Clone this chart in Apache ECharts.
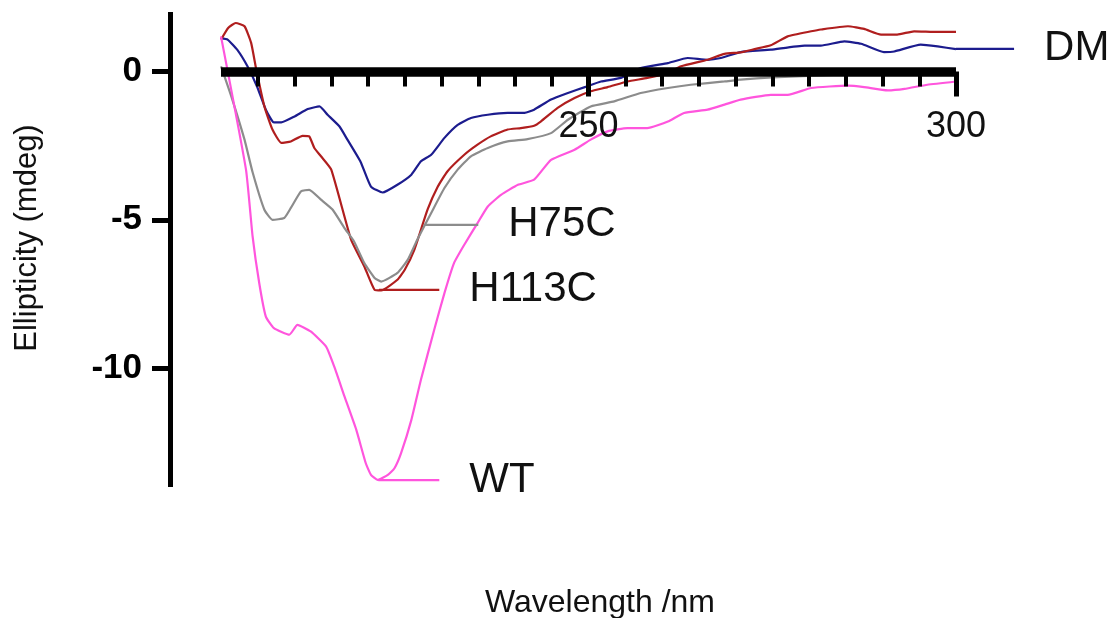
<!DOCTYPE html>
<html><head><meta charset="utf-8">
<script src="https://cdn.jsdelivr.net/npm/echarts@6/dist/echarts.min.js"></script>
<style>html,body{margin:0;padding:0;background:#fff}#c{width:1114px;height:618px}</style>
</head><body><div id="c"></div>
<script>
// ---- data ----
const seriesNames = ['DM', 'H113C', 'H75C', 'WT'];

const dmWavelength = [200, 200.9, 202.2, 203.6, 204.9, 206.1, 207.2, 208.2, 210, 211.8, 213.4, 214.5, 216.1, 217.2, 219, 220.4, 222, 224, 225.9, 227.2, 228.6, 230.4, 232.2, 234, 236.3, 239, 241.3, 242.6, 244.9, 247.2, 249.5, 251.7, 254.4, 257.1, 260.8, 263.5, 266.2, 268, 270.7, 274.8, 279.4, 281.6, 284.8, 287.1, 290.2, 291.6, 295.2, 297.5, 300];
const dmValues = [1.12, 1.07, 0.73, 0.17, -0.51, -1.29, -1.72, -1.72, -1.52, -1.27, -1.18, -1.46, -1.85, -2.30, -3.05, -3.88, -4.08, -3.82, -3.48, -3.03, -2.81, -2.24, -1.80, -1.57, -1.46, -1.40, -1.40, -1.29, -0.95, -0.73, -0.53, -0.34, -0.22, 0.11, 0.28, 0.45, 0.39, 0.45, 0.65, 0.73, 0.87, 0.87, 1.01, 0.93, 0.65, 0.67, 0.90, 0.84, 0.75];

const h113cWavelength = [200, 201, 202, 203.2, 204.1, 204.8, 205.9, 207, 208.2, 209.5, 211.1, 212, 212.7, 213.6, 215, 217.7, 219.5, 220.9, 221.8, 224, 225, 226.3, 228.1, 229.5, 230.8, 233.1, 234.9, 236.7, 239, 240.8, 242.6, 243.5, 245.8, 248.1, 250.3, 252.6, 255.3, 258, 260.8, 262.6, 266.2, 268.5, 270.7, 272.6, 274.8, 277.1, 280.3, 281.6, 285.3, 287.5, 289.8, 292, 294.3, 297.5, 300];
const h113cValues = [1.07, 1.47, 1.63, 1.52, 0.96, 0.06, -1.18, -1.96, -2.41, -2.36, -2.17, -2.19, -2.58, -2.86, -3.31, -5.67, -6.57, -7.36, -7.38, -7.02, -6.68, -6.01, -4.66, -3.88, -3.37, -2.81, -2.47, -2.19, -1.96, -1.91, -1.83, -1.69, -1.23, -0.90, -0.67, -0.53, -0.34, -0.22, -0.05, 0.17, 0.39, 0.59, 0.64, 0.75, 0.88, 1.18, 1.35, 1.41, 1.52, 1.43, 1.24, 1.24, 1.35, 1.33, 1.33];

const h75cWavelength = [200, 201.4, 203.2, 204.3, 205.9, 207, 208.6, 209.5, 210.9, 212, 213.6, 215.2, 216.8, 218.1, 219.5, 220.9, 221.8, 224, 225.4, 226.7, 228.6, 230.4, 232.2, 234, 236.3, 239, 241.7, 244.9, 247.2, 250.3, 253.5, 257.1, 260.8, 263.9, 268.5, 270.7, 275, 280, 285, 290, 295, 300];
const h75cValues = [0.17, -0.84, -2.30, -3.40, -4.66, -5.00, -4.94, -4.60, -4.04, -3.99, -4.32, -4.66, -5.28, -5.73, -6.46, -6.96, -7.08, -6.79, -6.35, -5.67, -4.77, -3.93, -3.31, -2.86, -2.58, -2.36, -2.28, -2.08, -1.63, -1.18, -1.01, -0.73, -0.56, -0.45, -0.34, -0.28, -0.20, -0.15, -0.10, -0.08, -0.05, -0.03];

const wtWavelength = [200, 203.4, 204.3, 205.2, 206.1, 207.2, 209.3, 210.4, 212.2, 214.3, 215.4, 216.8, 218.4, 219.7, 220.4, 221.3, 222.7, 223.6, 224.5, 225.9, 227.2, 229, 230.4, 231.7, 233.1, 234.9, 236.3, 238.1, 240.4, 242.6, 244.9, 248.1, 250.3, 252.6, 255.3, 258, 260.8, 263, 266.2, 268.5, 270.7, 274.8, 277.1, 280.3, 285.3, 287.5, 290.7, 293, 296.1, 300];
const wtValues = [1.18, -3.31, -5.56, -7.13, -8.26, -8.65, -8.87, -8.54, -8.76, -9.27, -9.94, -10.95, -12.07, -13.20, -13.59, -13.76, -13.59, -13.37, -12.86, -11.74, -10.39, -8.71, -7.47, -6.46, -5.84, -5.11, -4.55, -4.16, -3.82, -3.65, -2.98, -2.64, -2.30, -2.02, -1.91, -1.91, -1.69, -1.40, -1.29, -1.12, -0.95, -0.79, -0.79, -0.56, -0.48, -0.53, -0.64, -0.59, -0.45, -0.34];

// label leader lines (wavelength from, wavelength to, ellipticity), order as seriesNames
const leaderStart = [300, 221.5, 227.6, 221.4];
const leaderEnd = [307.9, 229.7, 235.0, 229.7];
const leaderValue = [0.76, -7.36, -5.17, -13.77];

const xTickLabels = [250, 300];
const xMajorTicks = [250, 300];
const yTickValues = [0, -5, -10];

// ---- chart ----
const FONT = '"Liberation Sans", Arial, Helvetica, sans-serif';
const colors = { DM: '#1c1c8e', H113C: '#b01e1e', H75C: '#8c8c8c', WT: '#ff55dd' };
const wl = { DM: dmWavelength, H113C: h113cWavelength, H75C: h75cWavelength, WT: wtWavelength };
const vals = { DM: dmValues, H113C: h113cValues, H75C: h75cValues, WT: wtValues };

const X_MIN = 200, X_MAX = 300, X_MAX_LABELS = 310;
const GRID_LEFT = 221, PLOT_W = 735;
const labelGridW = PLOT_W * (X_MAX_LABELS - X_MIN) / (X_MAX - X_MIN);

const series = [];
seriesNames.forEach(function (name) {
  series.push({
    name: name, type: 'line', showSymbol: false, smooth: 0.15,
    xAxisIndex: 0, yAxisIndex: 0,
    data: wl[name].map(function (w, i) { return [w, vals[name][i]]; }),
    lineStyle: { color: colors[name], width: 2.2 }, z: 2
  });
});
seriesNames.forEach(function (name, i) {
  series.push({
    name: name + ' label', type: 'line', showSymbol: false, clip: false, silent: true,
    xAxisIndex: 1, yAxisIndex: 1,
    data: [[leaderStart[i], leaderValue[i]], [leaderEnd[i], leaderValue[i]]],
    lineStyle: { color: colors[name], width: 2.2 }, z: 2,
    endLabel: { show: true, formatter: name, fontSize: 42, color: '#111', distance: 30, fontFamily: FONT }
  });
});

const chart = echarts.init(document.getElementById('c'), null, { renderer: 'canvas' });
chart.setOption({
  animation: false,
  backgroundColor: '#ffffff',
  grid: [
    { left: GRID_LEFT, width: PLOT_W, top: 12, bottom: 131, containLabel: false },
    { left: GRID_LEFT, width: labelGridW, top: 12, bottom: 131, containLabel: false }
  ],
  xAxis: [{
    gridIndex: 0, type: 'value', min: X_MIN, max: X_MAX, interval: 50, z: 5,
    axisLine: { onZero: true, lineStyle: { color: '#000', width: 9.5, cap: 'butt' } },
    axisTick: { show: true, customValues: xMajorTicks, length: 25, lineStyle: { color: '#000', width: 5 } },
    minorTick: { show: true, splitNumber: 10, length: 15, lineStyle: { color: '#000', width: 4 } },
    splitLine: { show: false }, minorSplitLine: { show: false },
    axisLabel: {
      formatter: function (v) { return xTickLabels.indexOf(v) >= 0 ? String(v) : ''; },
      fontSize: 36, color: '#111', margin: -378, fontFamily: FONT
    }
  }, {
    gridIndex: 1, type: 'value', min: X_MIN, max: X_MAX_LABELS, show: false
  }],
  yAxis: [{
    gridIndex: 0, type: 'value', min: -14, max: 2, position: 'left', offset: 51,
    axisLine: { show: true, onZero: false, lineStyle: { color: '#000', width: 5, cap: 'butt' } },
    axisTick: { show: true, customValues: yTickValues, length: 18, lineStyle: { color: '#000', width: 5 } },
    axisLabel: { customValues: yTickValues, fontSize: 35, fontWeight: 'bold', color: '#000', margin: 28, fontFamily: FONT },
    splitLine: { show: false }
  }, {
    gridIndex: 1, type: 'value', min: -14, max: 2, show: false
  }],
  graphic: [
    { type: 'text', x: 27, y: 238, rotation: Math.PI / 2,
      style: { text: 'Ellipticity (mdeg)', fontSize: 31, fill: '#111', align: 'center', verticalAlign: 'middle', fontFamily: FONT } },
    { type: 'text', x: 600, y: 603,
      style: { text: 'Wavelength /nm', fontSize: 32, fill: '#111', align: 'center', verticalAlign: 'middle', fontFamily: FONT } }
  ],
  series: series
});
</script>
</body></html>
